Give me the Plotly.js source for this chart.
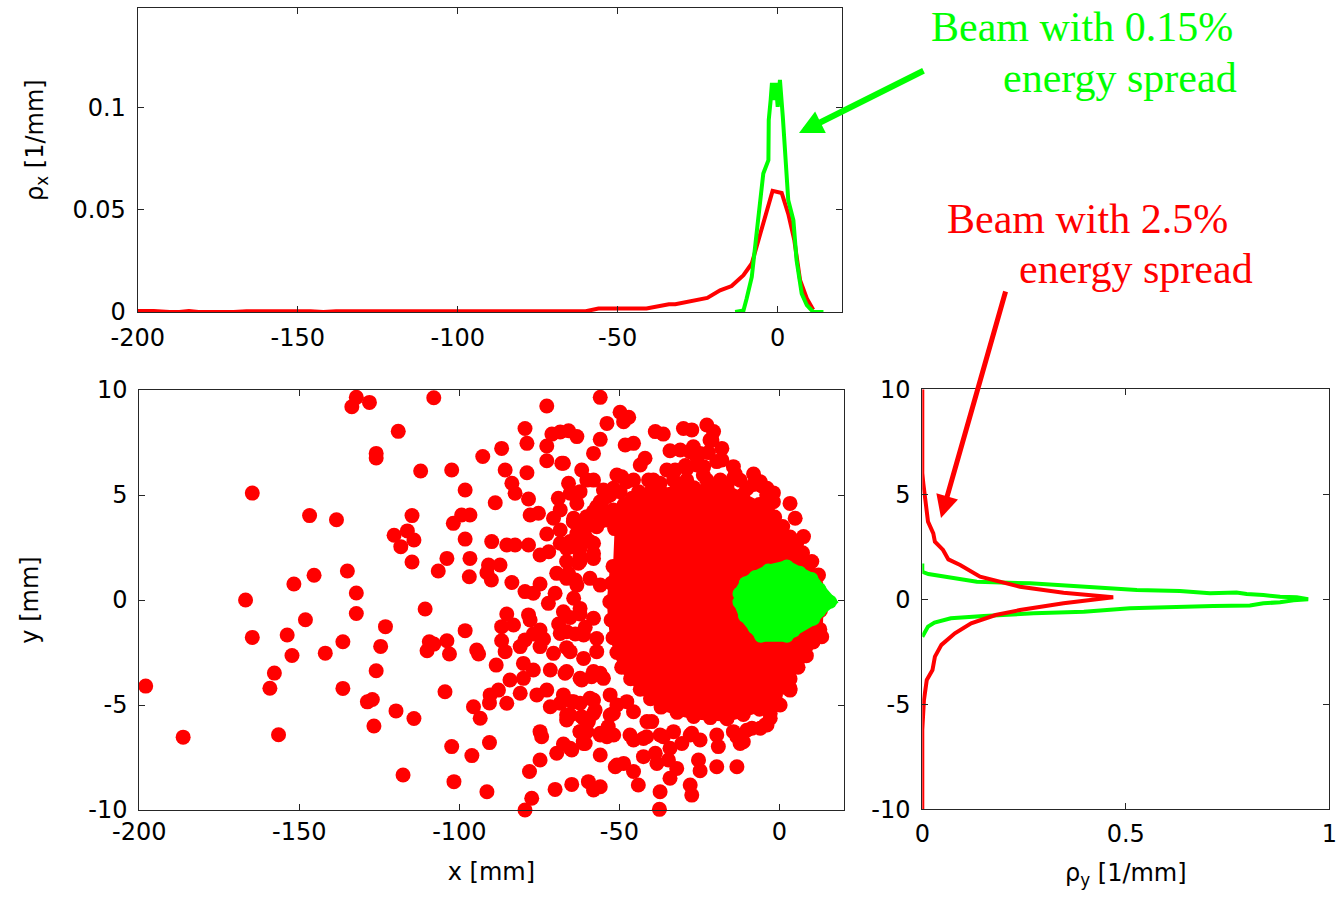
<!DOCTYPE html>
<html><head><meta charset="utf-8">
<script src="https://cdn.plot.ly/plotly-3.0.1.min.js"></script>
<style>html,body{margin:0;padding:0;background:#fff;}#chart{width:1338px;height:899px;}</style>
</head><body><div id="chart"></div>
<script>
// ---------- data: top panel (x-density) ----------
const rhoXRedX = [-200,-195,-190,-187,-184,-181,-170,-166,-146,-142,-138,-60,-56,-41,-34,-32,-22,-18,-14.4,-10.7,-8.1,-6,-4,-1.6,1.25,3.3,5.2,7,9.1,11.1];
const rhoXRedY = [0.0005,0.0005,0,0,0.0005,0,0,0.0004,0.0004,0,0.0004,0.0004,0.0017,0.0017,0.0038,0.0038,0.0069,0.0106,0.0127,0.018,0.0237,0.035,0.0465,0.0592,0.0582,0.048,0.035,0.0155,0.0066,0.0011];
const rhoXGreenX = [-13.3,-10.7,-9.7,-8.7,-8.1,-6.6,-4.5,-2.9,-2.8,-2.2,-1.8,-1.2,-0.6,0,0.7,1.6,2.3,3.3,4.9,5.9,7.5,9.1,11.1,14.3];
const rhoXGreenY = [0,0.0007,0.0066,0.0122,0.0171,0.0384,0.0677,0.0742,0.0938,0.1036,0.112,0.1036,0.112,0.1003,0.1134,0.0954,0.0783,0.0546,0.0449,0.0253,0.009,0.0033,0,0];

// ---------- data: right panel (y-density) ----------
const rhoYRedRho = [0,0,0.0025,0.006,0.014,0.027,0.031,0.051,0.064,0.093,0.142,0.24,0.347,0.469,0.347,0.24,0.18,0.12,0.08,0.047,0.031,0.025,0.011,0.004,0.0025,0,0];
const rhoYRedY   = [10,6.0,5.52,4.89,3.7,3.14,2.74,2.35,1.9,1.63,1.08,0.6,0.31,0.1,-0.19,-0.51,-0.75,-1.14,-1.62,-2.17,-2.73,-3.37,-3.84,-4.8,-5.59,-6.22,-10];
const rhoYGreenRho = [0,0,0.015,0.06,0.1,0.134,0.265,0.387,0.486,0.527,0.633,0.707,0.772,0.797,0.838,0.879,0.92,0.948,0.912,0.879,0.838,0.805,0.715,0.617,0.51,0.397,0.274,0.151,0.11,0.07,0.03,0.014,0];
const rhoYGreenY   = [1.71,1.31,1.2,1.05,0.92,0.84,0.76,0.63,0.52,0.44,0.4,0.29,0.32,0.25,0.2,0.12,0.1,0,-0.05,-0.14,-0.19,-0.29,-0.32,-0.38,-0.43,-0.59,-0.67,-0.8,-0.83,-0.9,-1.11,-1.3,-1.78];

// ---------- data: scatter panel ----------
// outline of the saturated red core (where the particles overlap completely)
const redCoreX = [-51.5,-50,-48.5,-46,-44,-40.5,-37.3,-32,-26.8,-21.5,-16.4,-11.5,-6.3,-3.8,-1.5,1,3.3,5.3,7.2,8.8,10,11.4,12.5,12.8,12.6,10.5,8.4,5.8,3.3,1,-1.3,-3.8,-6.2,-11.3,-16.4,-21.6,-26.8,-32,-37,-40.3,-43.5,-46.5,-49.3,-50.8,-52,-52.6,-53,-52.5,-52];
const redCoreY = [3.4,4.0,4.55,4.85,5.15,5.1,5.2,5.3,5.35,5.4,5.35,5.0,4.55,4.3,3.95,3.5,3.0,2.65,2.25,1.75,1.2,0.75,0.3,-0.5,-1.4,-2.0,-2.65,-3.2,-3.75,-4.15,-4.55,-4.9,-5.2,-5.45,-5.65,-5.6,-5.55,-5.35,-5.1,-4.7,-4.25,-3.75,-3.2,-2.5,-1.8,-0.95,-0.08,0.8,1.6];
// individual red particles outside the saturated core
const redX = [
-198.0,-186.3,-164.7,-166.8,-164.7,-159.2,-157.8,-156.5,-153.8,-152.3,-151.7,-148.1,-146.8,-145.4,-141.9,-138.4,-136.4,-136.4,-135.0,-133.6,-132.2,-132.2,-132.2,-128.1,-128.75,-127.2,-126.7,-126.0,-126.0,-126.0,-124.6,-123.1,-120.4,-119.8,-119.1,-118.3,-117.6,-116.25,-114.8,-114.8,-114.2,-114.2,-112.1,-110.7,-110.1,-109.4,-108.0,-108.0,-106.6,
-56.0,-72.7,-49.8,-47.1,-48.7,-53.9,-79.5,-71.1,-68.5,-65.9,-63.3,-78.9,-72.7,-86.8,-56.0,-48.2,-45.6,-58.1,-92.7,-72.7,-68.0,-102.4,-85.7,-78.9,-61.8,-43.5,-60.2,-83.6,-82.6,-98.2,-65.9,-88.8,-78.4,-69.1,-65.4,-96.7,-99.3,-101.9,-77.9,-75.3,-70.6,-64.4,-98.2,-89.9,-85.2,-82.6,-78.4,-74.8,-72.1,-72.7,-68.5,-64.9,-103.9,-96.7,-90.9,-87.3,-91.4,-90.0,-96.9,-83.6,-79.5,-74.8,-69.6,-65.9,-62.8,-70.1,-55.0,-51.9,-49.3,-45.6,-53.9,-57.1,-63.3,-60.2,-57.1,-53.9,-68.5,-63.3,-62.3,-58.1,
-98.2,-103.9,-103.1,-94.6,-94.0,-85.2,-86.8,-83.1,-86.8,-85.7,-88.5,-81.0,-79.5,-78.4,-104.5,-95.6,-93.5,-90.4,-90.6,-87.8,-84.2,-85.2,-81.0,-80.0,-75.8,-72.7,-71.6,-68.5,-74.8,-74.3,-65.4,-66.5,-62.3,-61.2,-102.4,-96.1,-90.6,-74.8,-78.1,-69.6,-67.5,-64.9,-56.0,-101.7,-91.4,-77.4,-79.5,-70.1,-64.9,-59.7,-58.1,-56.0,-51.3,-48.7,-45.6,-44.1,-60.2,-56.0,-53.9,-58.1,-62.3,-71.6,-80.0,-76.9,-70.6,-68.5,-74.8,-77.9,-74.8,
-63.8,-60.7,-62.3,-65.4,-61.8,-58.7,-56.0,-64.9,-61.8,-59.7,-57.6,-51.9,-53.5,-61.3,-63.8,-60.2,-60.7,-58.1,-63.3,-66.5,-72.2,-76.9,-76.9,-73.7,-69.0,-66.5,-67.0,
-22.7,-20.6,-30.0,-27.4,-38.8,-36.3,-21.7,-18.0,-34.2,-31.0,-26.9,-22.2,-42.0,-18.0,-35.2,-32.6,-13.8,-8.1,-5.5,-40.9,-37.3,3.3,4.9,-1.9,7.5,10.1,12.2,-29.4,-25.8,-12.3,-1.9,
13.2,3.3,-2.9,-4.5,-8.6,-12.3,-13.3,-19.1,-19.6,-25.3,-24.8,-27.9,-27.4,-37.3,-37.5,-34.2,-32.1,-42.5,-38.8,-38.3,-34.7,-45.6,-41.5,-36.3,-30.5,-27.4,-24.8,-39.9,-13.3,-10.2,
-21.1,-67.5,-58.1,-28.0,-24.8,-28.9,-25.8,-23.8,-19.6,-6.0,-50.8,-47.7,-52.9,-56.0,-3.9,
-64.3,-61.2,-58.1,-56.0,-65.4,-62.3,-59.2,-66.5,-62.3,-58.1,-66.5,-63.3,-59.2,-56.0,-64.3,-67.5,-62.3,-58.1,-66.5,-61.2,-57.1,-65.4,-61.2,-57.1,-66.5,-62.3,-58.1,-55.0,-67.5,-64.3,-59.2,-52.9,-50.8,-47.7,
-66.5,-61.2,-58.1,-52.9,-45.6,-41.4,-62.3,-56.0,-51.8,-46.7,-42.5,-37.3,-33.1,-27.9,-19.6,-14.4,-11.3,-6.0,-2.9,-3.9,3.3,0.2,-65.4,-60.7,-50.8,-34.2,
-39.4,-33.1,-29.0,-22.7,-18.5,-14.4,-8.1,-4.0,-62.3,-49.8,-10.2,-68.5,-55.0,-51.9,-23.7,-14.4
];
const redY = [
-4.1,-6.53,5.09,0,-1.78,-4.2,-3.48,-6.42,-1.67,-2.64,0.76,-0.94,4.02,1.18,-2.53,3.82,-1.99,-4.21,1.38,9.2,9.65,0.33,-0.64,9.41,-4.85,-4.74,-6.0,6.98,6.76,-3.37,-2.21,-1.27,3.08,-5.28,8.03,2.54,-8.33,3.29,4.02,1.81,2.86,-5.64,6.14,-0.43,-2.42,-1.99,9.63,-2.1,1.38,
9.65,9.24,8.94,8.7,8.49,8.41,8.17,7.9,8.0,8.06,7.78,7.46,7.33,7.22,7.65,7.38,7.46,6.98,6.83,6.63,6.51,6.19,6.19,6.06,6.19,6.43,5.71,5.56,5.08,5.24,5.56,4.63,4.81,4.84,5.08,4.05,4.05,3.65,4.05,4.13,3.89,3.73,2.9,2.78,2.62,2.62,2.62,2.14,2.3,3.14,2.7,2.54,1.98,1.98,1.67,1.67,1.3,0.95,1.11,0.83,0.4,0.76,1.27,1.27,1.75,0.32,5.24,5.32,5.87,5.71,4.92,4.44,4.6,3.97,3.49,3.81,3.33,3.17,2.06,2.22,
-1.46,-1.94,-2.57,-2.38,-2.57,-0.67,-1.27,-1.19,-1.94,-2.46,-3.1,-2.22,-1.9,-0.71,-4.37,-5.08,-5.63,-4.52,-4.9,-4.29,-3.81,-4.92,-4.44,-3.73,-4.52,-4.29,-5.08,-4.92,-6.27,-6.51,-5.48,-5.71,-6.27,-6.83,-6.98,-7.41,-6.79,-7.62,-8.17,-7.3,-6.86,-7.14,-7.38,-8.65,-9.13,-9.44,-10.0,-9.02,-8.78,-8.65,-9.05,-8.89,-7.94,-7.78,-8.17,-8.81,-6.27,-6.35,-6.51,-4.76,-4.92,-3.33,-3.02,-3.33,-2.54,-1.59,-2.22,-0.95,-1.43,
-1.62,-1.3,-0.67,-0.83,-3.81,-3.65,-3.49,-4.84,-5.56,-5.79,-5.24,-5.4,-6.03,-6.74,0.95,3.49,3.02,2.7,2.78,2.46,-0.16,0.32,-1.62,-1.86,-1.14,-2.27,-3.49,
8.33,8.02,8.17,8.1,8.02,7.9,7.62,7.22,7.11,7.14,7.3,7.02,6.75,6.67,6.19,6.19,6.0,6.0,5.43,5.71,5.56,4.6,3.89,4.68,3.02,1.83,1.19,6.4,6.8,5.7,5.1,
-1.75,-4.29,-5.4,-5.95,-6.11,-6.83,-7.94,-6.98,-7.94,-7.62,-8.13,-8.81,-9.29,-9.13,-9.97,-8.49,-8.02,-7.46,-7.3,-7.78,-7.62,-6.67,-6.51,-6.51,-6.83,-6.35,-6.67,-5.79,-6.51,-6.2,
7.62,6.51,5.71,7.06,6.98,6.27,6.43,5.95,6.59,5.63,5.95,5.63,5.0,4.68,5.32,
3.89,3.57,4.21,3.73,2.78,2.46,2.78,1.83,1.83,1.98,1.03,0.71,1.03,0.71,0.08,-0.56,-0.4,-0.87,-1.51,-1.67,-1.83,-2.46,-2.78,-2.46,-3.41,-3.73,-3.41,-3.73,-4.52,-4.84,-4.68,-4.52,-5.0,-4.84,
-5.48,-5.63,-5.4,-5.48,-5.32,-5.79,-6.27,-6.43,-6.43,-6.43,-6.59,-6.43,-6.27,-6.43,-6.43,-6.27,-6.75,-6.11,-5.63,-5.95,-4.21,-5.0,-7.06,-6.83,-7.86,-7.06,
5.71,5.71,5.71,5.71,5.71,5.8,5.5,5.0,5.16,5.16,5.3,4.29,4.29,4.29,6.35,6.35
];
// outline of the green (0.15 %) particle cloud
const greenX = [-12.5,-10.5,-7.5,-3.5,2.3,6.3,10,12.5,15.8,12.5,10.5,4.4,2.3,-5.8,-7.8,-10.8,-12.5];
const greenY = [0.3,0.8,1.1,1.4,1.6,1.3,1.0,0.5,-0.08,-0.5,-0.9,-1.45,-1.7,-1.7,-1.3,-0.75,-0.1];

// ---------- tick labels ----------
const xTickVals = [-200,-150,-100,-50,0];
const xTickText = ['-200','-150','-100','-50','0'];
const rhoXTickVals = [0,0.05,0.1];
const rhoXTickText = ['0','0.05','0.1'];
const yTickVals = [-10,-5,0,5,10];
const yTickText = ['-10','-5','0','5','10'];
const rhoYTickVals = [0,0.5,1];
const rhoYTickText = ['0','0.5','1'];

// ---------- layout helpers ----------
const W = 1338, H = 899;
const RED = '#ff0000', GREEN = '#00ff00';
const px = v => v / W;
const py = v => 1 - v / H;
const sans = 'DejaVu Sans, Arial, sans-serif';
const tickFont = {family:sans, size:24, color:'#000'};
function axis(extra){
  return Object.assign({
    showline:true, linecolor:'#262626', linewidth:1, mirror:'ticks',
    ticks:'inside', ticklen:6, tickwidth:1, tickcolor:'#262626',
    showgrid:false, zeroline:false, tickfont:tickFont, ticklabelstandoff:6,
    fixedrange:true, automargin:false
  }, extra);
}

const traces = [
  {x:rhoXRedX, y:rhoXRedY, xaxis:'x', yaxis:'y', mode:'lines', line:{color:RED, width:4}, hoverinfo:'skip'},
  {x:rhoXGreenX, y:rhoXGreenY, xaxis:'x', yaxis:'y', mode:'lines', line:{color:GREEN, width:4}, hoverinfo:'skip'},
  {x:redCoreX, y:redCoreY, xaxis:'x2', yaxis:'y2', mode:'lines+markers', fill:'toself', fillcolor:RED,
   line:{color:RED, width:6}, marker:{color:RED, size:15}, hoverinfo:'skip', cliponaxis:false},
  {x:redX, y:redY, xaxis:'x2', yaxis:'y2', mode:'markers', marker:{color:RED, size:15}, hoverinfo:'skip', cliponaxis:false},
  {x:greenX, y:greenY, xaxis:'x2', yaxis:'y2', mode:'lines+markers', fill:'toself', fillcolor:GREEN,
   line:{color:GREEN, width:12}, marker:{color:GREEN, size:14}, hoverinfo:'skip', cliponaxis:false},
  {x:rhoYGreenRho, y:rhoYGreenY, xaxis:'x3', yaxis:'y3', mode:'lines', line:{color:GREEN, width:4}, hoverinfo:'skip'},
  {x:rhoYRedRho, y:rhoYRedY, xaxis:'x3', yaxis:'y3', mode:'lines', line:{color:RED, width:4}, hoverinfo:'skip'}
];

const titleFont = {family:sans, size:24, color:'#000'};
const serif = 'Liberation Serif, Times New Roman, serif';

const layout = {
  width:W, height:H, margin:{l:0, r:0, t:0, b:0},
  paper_bgcolor:'#fff', plot_bgcolor:'#fff', showlegend:false,
  xaxis: axis({domain:[px(137.7), px(841.7)], range:[-200,20], anchor:'y', tickvals:xTickVals, ticktext:xTickText, ticklabelstandoff:4}),
  yaxis: axis({domain:[py(312), py(8)], range:[0,0.1486], anchor:'x', tickvals:rhoXTickVals, ticktext:rhoXTickText}),
  xaxis2: axis({domain:[px(139.3), px(843.5)], range:[-200,20], anchor:'y2', tickvals:xTickVals, ticktext:xTickText, ticklabelstandoff:0,
    title:{text:'x [mm]', font:titleFont, standoff:18}}),
  yaxis2: axis({domain:[py(810), py(390)], range:[-10,10], anchor:'x2', tickvals:yTickVals, ticktext:yTickText,
    title:{text:'y [mm]', font:titleFont, standoff:42}}),
  xaxis3: axis({domain:[px(922.3), px(1329.3)], range:[0,1], anchor:'y3', tickvals:rhoYTickVals, ticktext:rhoYTickText, ticklabelstandoff:3,
    title:{text:'ρ<sub>y</sub> [1/mm]', font:titleFont, standoff:17}}),
  yaxis3: axis({domain:[py(809.3), py(389.3)], range:[-10,10], anchor:'x3', tickvals:yTickVals, ticktext:yTickText}),
  annotations:[
    {xref:'paper', yref:'paper', x:px(37), y:py(140), xanchor:'center', yanchor:'middle', textangle:-90, showarrow:false,
     text:'ρ<sub>x</sub> [1/mm]', font:titleFont},
    {xref:'paper', yref:'paper', x:px(929), y:py(27), xanchor:'left', yanchor:'middle', showarrow:false,
     text:'Beam with 0.15%', font:{family:serif, size:42, color:GREEN}},
    {xref:'paper', yref:'paper', x:px(1001), y:py(78), xanchor:'left', yanchor:'middle', showarrow:false,
     text:'energy spread', font:{family:serif, size:42, color:GREEN}},
    {xref:'paper', yref:'paper', x:px(945), y:py(219), xanchor:'left', yanchor:'middle', showarrow:false,
     text:'Beam with 2.5%', font:{family:serif, size:42, color:RED}},
    {xref:'paper', yref:'paper', x:px(1017), y:py(269), xanchor:'left', yanchor:'middle', showarrow:false,
     text:'energy spread', font:{family:serif, size:42, color:RED}},
    {xref:'paper', yref:'paper', x:px(799), y:py(133), text:'', showarrow:true, ax:126, ay:-63,
     arrowcolor:GREEN, arrowwidth:6, arrowhead:2, arrowsize:0.8},
    {xref:'paper', yref:'paper', x:px(941), y:py(518), text:'', showarrow:true, ax:65, ay:-228,
     arrowcolor:RED, arrowwidth:5, arrowhead:2, arrowsize:0.9}
  ]
};

Plotly.newPlot('chart', traces, layout, {staticPlot:true, displayModeBar:false});
</script></body></html>
